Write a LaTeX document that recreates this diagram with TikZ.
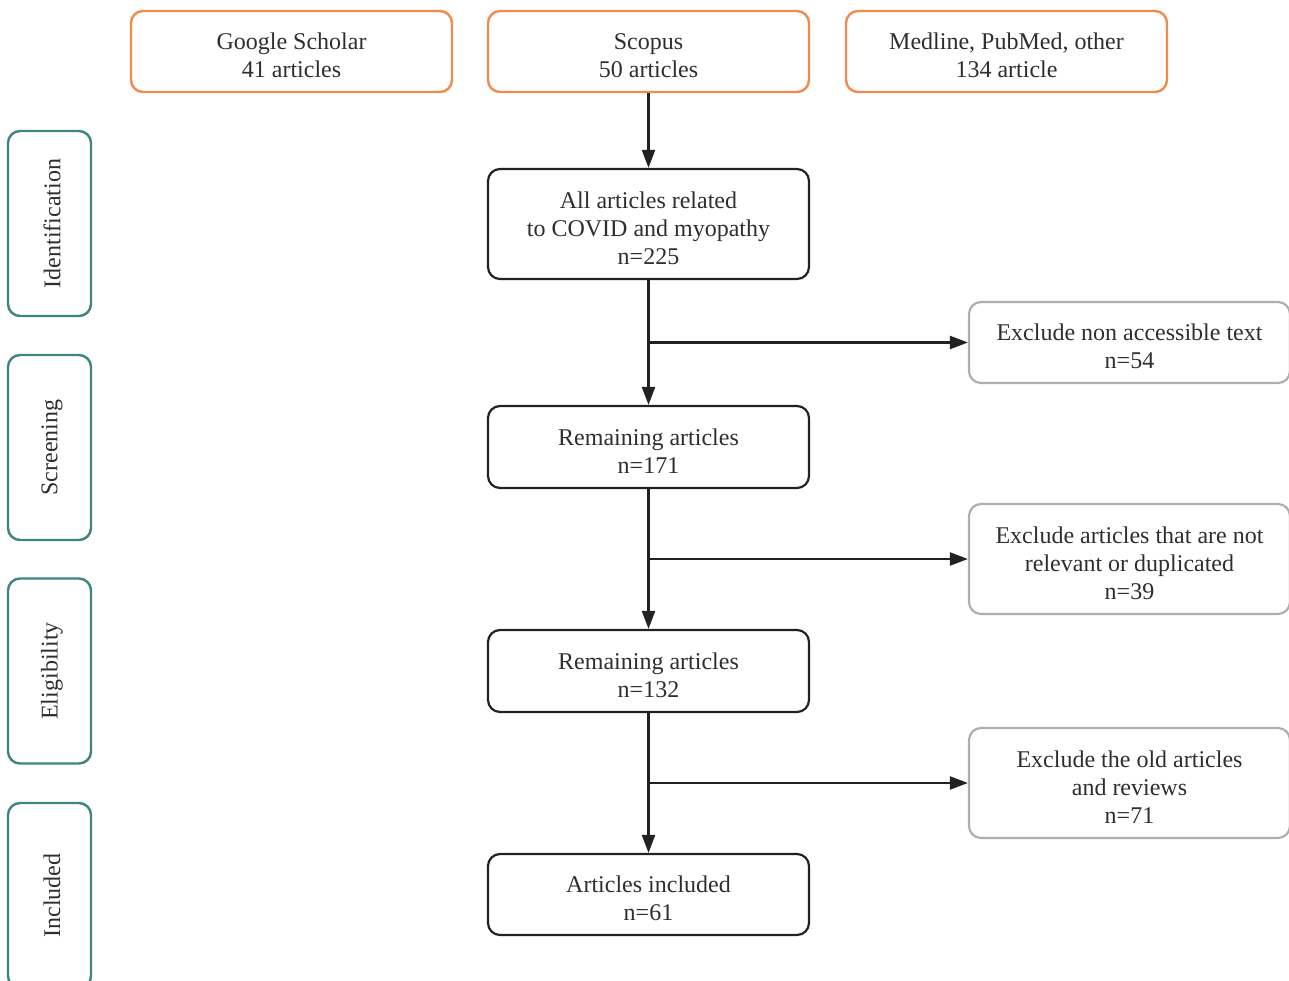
\documentclass[tikz,border=0pt]{standalone}
\usepackage{fontspec}
\setmainfont{Liberation Serif}
\usetikzlibrary{arrows.meta}
\definecolor{orangeb}{HTML}{F28A4E}
\definecolor{tealb}{HTML}{3E8582}
\definecolor{grayb}{HTML}{AEAEAE}
\definecolor{txt}{HTML}{2E2E2E}
\definecolor{ink}{HTML}{222222}
\newcommand{\firstl}{\rule{0pt}{25pt}}
\newcommand{\phtext}[1]{\hspace*{5pt}\rotatebox{90}{#1}}
\tikzset{
  base/.style={rectangle, rounded corners=12pt, align=center, text=txt,
    font=\fontsize{24}{28}\selectfont, inner sep=0pt, minimum width=321pt},
  src/.style={base, draw=orangeb, line width=2.4pt, minimum height=81pt},
  mainbox/.style={base, draw=ink, line width=2.2pt},
  excl/.style={base, draw=grayb, line width=2.2pt},
  phase/.style={base, draw=tealb, line width=2.4pt, minimum width=83pt, minimum height=185pt},
  flow/.style={draw=ink, line width=2.3pt},
  arr/.style={flow, -{Triangle[length=18pt,width=13pt]}}
}
\begin{document}
\begin{tikzpicture}[x=1pt,y=-1pt]
\useasboundingbox (0,0) rectangle (1289,981);
% sources
\node[src] (gs) at (291.5,51.5) {\firstl Google Scholar\\41 articles};
\node[src] (sc) at (648.5,51.5) {\firstl Scopus\\50 articles};
\node[src] (md) at (1006.5,51.5) {\firstl Medline, PubMed, other\\134 article};
% phases
\node[phase] (p1) at (49.5,223.5) {\phtext{Identification}};
\node[phase] (p2) at (49.5,447.5) {\phtext{Screening}};
\node[phase] (p3) at (49.5,671) {\phtext{Eligibility}};
\node[phase] (p4) at (49.5,895.5) {\phtext{Included}};
% main
\node[mainbox, minimum height=110pt] (all) at (648.5,224) {\firstl All articles related\\to COVID and myopathy\\n=225};
\node[mainbox, minimum height=82pt] (r1) at (648.5,447) {\firstl Remaining articles\\n=171};
\node[mainbox, minimum height=82pt] (r2) at (648.5,671) {\firstl Remaining articles\\n=132};
\node[mainbox, minimum height=81pt] (inc) at (648.5,894.5) {\firstl Articles included\\n=61};
% exclusions
\node[excl, minimum height=81pt] (e1) at (1129.5,342.5) {\firstl Exclude non accessible text\\n=54};
\node[excl, minimum height=110pt] (e2) at (1129.5,559) {\firstl Exclude articles that are not\\relevant or duplicated\\n=39};
\node[excl, minimum height=110pt] (e3) at (1129.5,783) {\firstl Exclude the old articles\\and reviews\\n=71};
% connectors
\draw[arr] (sc.south) -- (all.north);
\draw[arr] (all.south) -- (r1.north);
\draw[arr] (r1.south) -- (r2.north);
\draw[arr] (r2.south) -- (inc.north);
\draw[arr] (all.south |- e1.west) -- (e1.west);
\draw[arr] (r1.south |- e2.west) -- (e2.west);
\draw[arr] (r2.south |- e3.west) -- (e3.west);
\end{tikzpicture}
\end{document}
